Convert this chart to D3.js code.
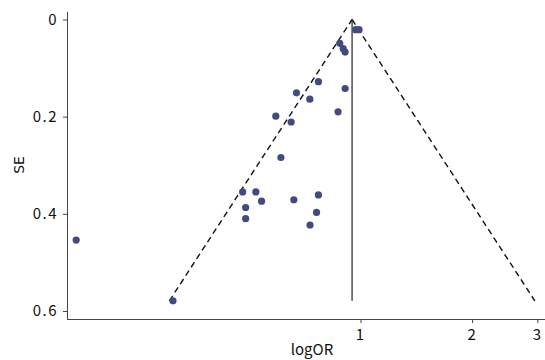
<!DOCTYPE html>
<html>
<head>
<meta charset="utf-8">
<script src="https://cdn.jsdelivr.net/npm/d3@7"></script>
<style>
  html, body { margin: 0; padding: 0; background: #fff; }
  svg { display: block; }
  text { font-family: "Noto Sans CJK SC", "DejaVu Sans", sans-serif; fill: #111; }
</style>
</head>
<body>
<svg id="chart" width="545" height="360"></svg>
<script>
// Study odds ratios (plotted on log scale) and their standard errors
const studyOR = [0.171, 0.312, 0.971, 0.991, 0.879, 0.898, 0.909, 0.770, 0.672, 0.730,
                 0.909, 0.591, 0.870, 0.650, 0.610, 0.481, 0.522, 0.541, 0.490, 0.490,
                 0.661, 0.770, 0.761, 0.731];
const studySE = [0.454, 0.579, 0.021, 0.021, 0.049, 0.060, 0.067, 0.128, 0.151, 0.164,
                 0.142, 0.199, 0.190, 0.211, 0.284, 0.355, 0.355, 0.374, 0.387, 0.410,
                 0.371, 0.361, 0.397, 0.423];
const pooledOR = 0.949;
const xTicks = [1, 2, 3];
const yTicks = [0, 0.2, 0.4, 0.6];
const xLabel = "logOR";
const yLabel = "SE";

const svg = d3.select("#chart");
const pLeft = 67, pRight = 545, pBottom = 319;

const x = d3.scaleLog()
  .domain([Math.exp((pLeft - 360.5) / 161), Math.exp((pRight - 360.5) / 161)])
  .range([pLeft, pRight]);
const y = d3.scaleLinear().domain([0, 0.6]).range([19.5, 311]);

const axisColor = "#444";

// axes
const xAxis = svg.append("g").attr("transform", `translate(0,${pBottom})`)
  .call(d3.axisBottom(x).tickValues(xTicks).tickFormat(d3.format("d")).tickSize(4).tickPadding(6).tickSizeOuter(0));
xAxis.select(".domain").attr("stroke", axisColor).attr("d", `M${pLeft},0.5H${pRight}`);
xAxis.selectAll(".tick line").attr("stroke", axisColor);
xAxis.selectAll("text").style("font-size", "15px").attr("fill", "#111").attr("dx", "-1");

const yAxis = svg.append("g").attr("transform", `translate(${pLeft},0)`)
  .call(d3.axisLeft(y).tickValues(yTicks).tickFormat(d => d === 0 ? "0" : d3.format(".1f")(d)).tickSize(4).tickPadding(5).tickSizeOuter(0));
yAxis.select(".domain").attr("stroke", axisColor).attr("d", `M0.5,12V${pBottom}`);
yAxis.selectAll(".tick line").attr("stroke", axisColor);
yAxis.selectAll("text").style("font-size", "15px").style("letter-spacing", "1.5px").attr("fill", "#111");

// axis titles
svg.append("text").attr("x", 312).attr("y", 355).attr("text-anchor", "middle")
  .style("font-size", "15px").text(xLabel);
svg.append("text").attr("transform", "translate(24,165) rotate(-90)").attr("text-anchor", "middle")
  .style("font-size", "14px").style("font-family", "'DejaVu Sans', sans-serif").text(yLabel);

// funnel
const seMax = d3.max(studySE);
const lp = Math.log(pooledOR);
const funnel = [
  [[Math.exp(lp - 1.96 * seMax), seMax], [pooledOR, 0]],
  [[pooledOR, 0], [Math.exp(lp + 1.96 * seMax), seMax]]
];
const line = d3.line().x(d => x(d[0])).y(d => y(d[1]));
svg.selectAll("path.funnel").data(funnel).join("path")
  .attr("class", "funnel")
  .attr("d", line)
  .attr("fill", "none").attr("stroke", "#111").attr("stroke-width", 1.4)
  .attr("stroke-dasharray", "6,4");

// pooled line
svg.append("line")
  .attr("x1", x(pooledOR)).attr("x2", x(pooledOR))
  .attr("y1", y(0)).attr("y2", y(seMax))
  .attr("stroke", "#222").attr("stroke-width", 1.2);

// points
svg.selectAll("circle.pt").data(studyOR.map((v, i) => [v, studySE[i]])).join("circle")
  .attr("class", "pt")
  .attr("cx", d => x(d[0])).attr("cy", d => y(d[1])).attr("r", 3.6)
  .attr("fill", "#414b7f");
</script>
</body>
</html>
